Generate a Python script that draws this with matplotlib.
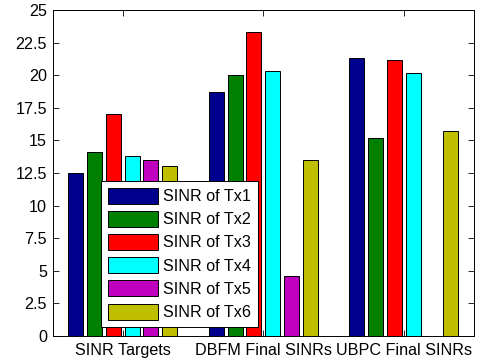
import numpy as np
import matplotlib.pyplot as plt

plt.rcParams["font.family"] = ["Liberation Sans", "DejaVu Sans"]

groups = ["SINR Targets", "DBFM Final SINRs", "UBPC Final SINRs"]
series_names = ["SINR of Tx1", "SINR of Tx2", "SINR of Tx3",
                "SINR of Tx4", "SINR of Tx5", "SINR of Tx6"]
sinr_tx1 = [12.5, 18.7, 21.3]
sinr_tx2 = [14.1, 20.0, 15.15]
sinr_tx3 = [17.05, 23.35, 21.2]
sinr_tx4 = [13.8, 20.35, 20.15]
sinr_tx5 = [13.5, 4.6, 0.0]
sinr_tx6 = [13.0, 13.5, 15.7]
yticks = [0, 2.5, 5, 7.5, 10, 12.5, 15, 17.5, 20, 22.5, 25]
ytick_labels = ["0", "2.5", "5", "7.5", "10", "12.5", "15", "17.5", "20", "22.5", "25"]

colors = [(0, 0, 0.56), (0, 0.5, 0), (1, 0, 0),
          (0, 1, 1), (0.75, 0, 0.75), (0.75, 0.75, 0)]

values = [sinr_tx1, sinr_tx2, sinr_tx3, sinr_tx4, sinr_tx5, sinr_tx6]

FS = 11.6

fig = plt.figure(figsize=(4.8, 3.61), dpi=100)
ax = fig.add_axes([52.5 / 480, 25 / 361, 421.5 / 480, 326 / 361])

x = np.arange(1, len(groups) + 1)
n = len(values)
step = 0.8 / n
width = 0.8 * step
for i, vals in enumerate(values):
    offs = (i - (n - 1) / 2) * step
    ax.bar(x + offs, vals, width=width, color=colors[i],
           edgecolor="black", linewidth=0.7, label=series_names[i])

ax.set_xlim(0.5, 3.5)
ax.set_ylim(0, 25)
ax.set_xticks(x)
ax.set_xticklabels(groups, fontsize=FS)
ax.set_yticks(yticks)
ax.set_yticklabels(ytick_labels, fontsize=FS)
ax.tick_params(direction="in", top=True, right=True, length=4, width=0.6)
ax.tick_params(axis="x", pad=5)
ax.tick_params(axis="y", pad=4)
for s in ax.spines.values():
    s.set_linewidth(0.7)

leg = ax.legend(loc="lower left", bbox_to_anchor=(0.116, 0.028),
                fontsize=FS, fancybox=False, framealpha=1,
                edgecolor="black", handlelength=3.1, handleheight=1.15,
                labelspacing=0.42, borderpad=0.42, handletextpad=0.3,
                borderaxespad=0)
leg.get_frame().set_linewidth(0.7)

plt.savefig("out.png", dpi=100)
plt.close()
